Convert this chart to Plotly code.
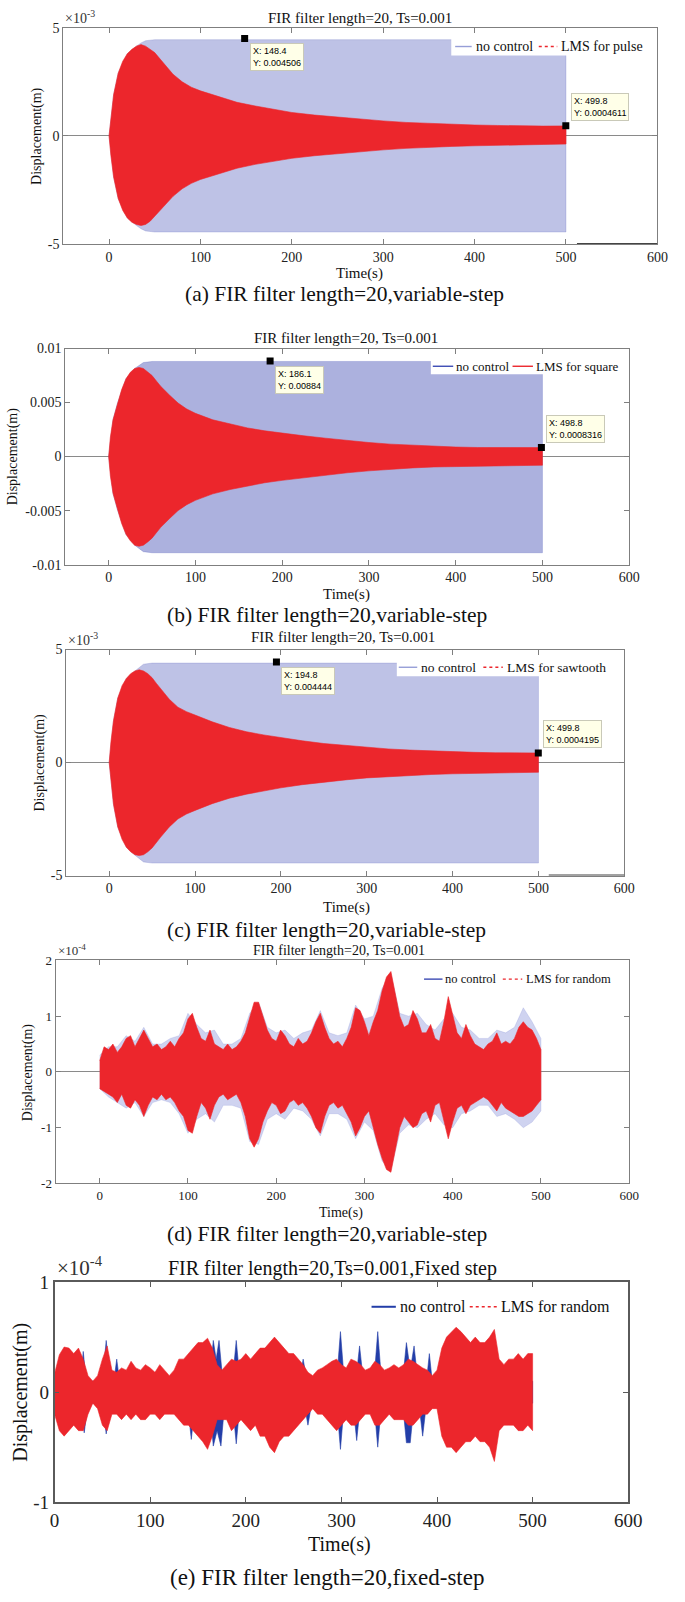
import plotly.graph_objects as go

W, H = 685, 1602
SERIF = "Liberation Serif"
SANS = "Liberation Sans"

# ---------------- data ----------------
# envelope sample times (s) for the sinusoidal-response panels (a)-(c)
t_lms = [0, 2, 5, 10, 15, 20, 25, 30, 35, 40, 45, 50, 55, 60, 70, 80, 90, 100, 120, 140,
         160, 180, 200, 225, 250, 275, 300, 325, 350, 375, 400, 425, 450, 475, 500]
t_nc = [0, 5, 10, 20, 30, 35, 40, 50, 500]

# (a) pulse, values in 1e-3 m
a_lms_up = [0, 0.9, 1.9, 2.9, 3.45, 3.8, 4.0, 4.15, 4.22, 4.15, 4.02, 3.85, 3.6, 3.35, 2.85, 2.5, 2.25,
            2.08, 1.8, 1.55, 1.38, 1.22, 1.08, 0.96, 0.86, 0.77, 0.69, 0.62, 0.57, 0.53, 0.5, 0.48,
            0.46, 0.45, 0.46]
a_lms_lo = [0, -0.9, -1.9, -2.9, -3.45, -3.8, -4.0, -4.1, -4.15, -4.1, -3.95, -3.75, -3.5, -3.25, -2.8,
            -2.45, -2.2, -2.02, -1.75, -1.5, -1.32, -1.17, -1.04, -0.92, -0.82, -0.73, -0.65, -0.58,
            -0.53, -0.49, -0.46, -0.43, -0.41, -0.4, -0.38]
a_nc_up = [0, 1.9, 2.9, 3.8, 4.15, 4.3, 4.4, 4.45, 4.45]
a_nc_lo = [0, -1.9, -2.9, -3.8, -4.15, -4.3, -4.4, -4.45, -4.45]

# (b) square, values in 1e-3 m
b_lms_up = [0, 1.8, 3.4, 4.9, 6.2, 7.2, 7.8, 8.15, 8.25, 8.15, 7.85, 7.5, 7.0, 6.5, 5.7, 4.95, 4.4,
            4.0, 3.4, 3.0, 2.65, 2.38, 2.16, 1.92, 1.7, 1.48, 1.3, 1.15, 1.04, 0.95, 0.88, 0.84,
            0.82, 0.81, 0.83]
b_lms_lo = [0, -1.8, -3.4, -4.9, -6.2, -7.2, -7.8, -8.2, -8.3, -8.2, -7.9, -7.55, -7.05, -6.55, -5.75,
            -5.0, -4.45, -4.05, -3.45, -3.05, -2.7, -2.42, -2.2, -1.95, -1.72, -1.5, -1.32, -1.17,
            -1.05, -0.96, -0.89, -0.85, -0.83, -0.82, -0.8]
b_nc_up = [0, 3.4, 4.9, 7.2, 8.15, 8.4, 8.7, 8.8, 8.8]
b_nc_lo = [0, -3.4, -4.9, -7.2, -8.2, -8.5, -8.8, -8.9, -8.9]

# (c) sawtooth, values in 1e-3 m
c_lms_up = [0, 0.9, 1.85, 2.85, 3.4, 3.72, 3.93, 4.05, 4.1, 4.05, 3.93, 3.75, 3.5, 3.25, 2.8, 2.45,
            2.25, 2.1, 1.8, 1.55, 1.36, 1.22, 1.1, 0.96, 0.84, 0.75, 0.66, 0.6, 0.55, 0.51, 0.48,
            0.45, 0.43, 0.42, 0.42]
c_lms_lo = [0, -0.9, -1.85, -2.85, -3.4, -3.75, -3.95, -4.08, -4.12, -4.08, -3.95, -3.78, -3.55, -3.3,
            -2.85, -2.5, -2.28, -2.12, -1.82, -1.58, -1.4, -1.25, -1.12, -0.98, -0.86, -0.77, -0.68,
            -0.62, -0.57, -0.53, -0.5, -0.47, -0.45, -0.44, -0.43]
c_nc_up = [0, 1.85, 2.85, 3.72, 4.05, 4.2, 4.35, 4.4, 4.4]
c_nc_lo = [0, -1.85, -2.85, -3.75, -4.1, -4.25, -4.4, -4.45, -4.45]

# (d) random, variable step; values in 1e-4 m
t_d = list(range(0, 505, 5))
d_lms_up = [0.2, 0.45, 0.4, 0.5, 0.35, 0.45, 0.6, 0.65, 0.45, 0.6,
            0.75, 0.6, 0.45, 0.5, 0.4, 0.45, 0.55, 0.45, 0.6, 0.7,
            0.95, 1.05, 0.8, 0.6, 0.55, 0.75, 0.5, 0.45, 0.4, 0.5,
            0.4, 0.45, 0.55, 0.7, 1.0, 1.25, 1.25, 1.0, 0.75, 0.6,
            0.55, 0.75, 0.65, 0.5, 0.45, 0.6, 0.5, 0.55, 0.7, 0.9,
            1.05, 0.8, 0.6, 0.5, 0.55, 0.45, 0.6, 0.8, 1.15, 1.1,
            0.9, 0.65, 0.9, 1.1, 1.45, 1.7, 1.8, 1.4, 1.0, 0.8,
            0.85, 1.1, 0.95, 0.7, 0.7, 0.85, 0.6, 0.55, 0.9, 1.35,
            1.0, 0.7, 0.6, 0.85, 0.65, 0.5, 0.45, 0.4, 0.5, 0.55,
            0.7, 0.5, 0.55, 0.5, 0.6, 0.8, 0.9, 0.8, 0.75, 0.6,
            0.4]
d_lms_lo = [-0.3, -0.35, -0.4, -0.45, -0.55, -0.4, -0.6, -0.65, -0.5, -0.6,
            -0.8, -0.6, -0.45, -0.5, -0.4, -0.5, -0.45, -0.55, -0.7, -0.8,
            -1.05, -1.1, -0.8, -0.55, -0.65, -0.85, -0.6, -0.45, -0.4, -0.5,
            -0.45, -0.4, -0.55, -0.8, -1.2, -1.35, -1.2, -0.9, -0.7, -0.55,
            -0.6, -0.75, -0.7, -0.55, -0.5, -0.6, -0.55, -0.65, -0.8, -1.0,
            -1.1, -0.8, -0.6, -0.55, -0.65, -0.6, -0.75, -0.9, -1.15, -1.0,
            -0.8, -0.7, -1.0, -1.3, -1.55, -1.75, -1.8, -1.4, -1.0, -0.8,
            -0.9, -1.0, -0.95, -0.75, -0.7, -0.9, -0.6, -0.55, -0.85, -1.2,
            -0.9, -0.65, -0.6, -0.75, -0.6, -0.55, -0.5, -0.45, -0.5, -0.6,
            -0.7, -0.55, -0.65, -0.7, -0.75, -0.8, -0.8, -0.75, -0.7, -0.6,
            -0.5]
t_d_nc = list(range(0, 510, 10))
d_nc_up = [0.3, 0.45, 0.45, 0.65, 0.55, 0.8, 0.5, 0.5, 0.6, 0.65,
           1.05, 0.85, 0.7, 0.75, 0.5, 0.5, 0.6, 1.05, 1.25, 0.8,
           0.7, 0.75, 0.6, 0.7, 0.75, 1.1, 0.7, 0.65, 0.7, 1.2,
           0.95, 1.0, 1.5, 1.75, 1.05, 1.0, 1.05, 0.85, 0.75, 0.95,
           1.05, 0.8, 0.75, 0.6, 0.6, 0.75, 0.7, 0.8, 1.15, 0.9, 0.6]
d_nc_lo = [-0.3, -0.45, -0.55, -0.65, -0.55, -0.8, -0.55, -0.5, -0.55, -0.75,
           -1.1, -0.85, -0.75, -0.9, -0.6, -0.6, -0.65, -1.25, -1.3, -0.85,
           -0.75, -0.85, -0.65, -0.7, -0.85, -1.15, -0.75, -0.75, -0.85, -1.2,
           -0.9, -1.05, -1.6, -1.75, -1.1, -0.95, -1.0, -0.85, -0.75, -0.95,
           -1.0, -0.75, -0.7, -0.6, -0.6, -0.8, -0.75, -0.85, -1.0, -0.9, -0.7]

# (e) random, fixed step; values in 1e-4 m
t_e = list(range(0, 505, 5))
e_lms_up = [0.17, 0.34, 0.41, 0.4, 0.35, 0.4, 0.3, 0.15, 0.1, 0.15,
            0.3, 0.42, 0.2, 0.18, 0.22, 0.2, 0.28, 0.22, 0.2, 0.25,
            0.22, 0.18, 0.25, 0.2, 0.15, 0.2, 0.3, 0.3, 0.35, 0.4,
            0.45, 0.45, 0.49, 0.4, 0.25, 0.2, 0.25, 0.3, 0.28, 0.3,
            0.35, 0.3, 0.35, 0.4, 0.4, 0.45, 0.5, 0.45, 0.4, 0.35,
            0.35, 0.3, 0.25, 0.18, 0.15, 0.2, 0.22, 0.25, 0.28, 0.3,
            0.25, 0.22, 0.3, 0.28, 0.25, 0.2, 0.22, 0.28, 0.25, 0.2,
            0.22, 0.25, 0.22, 0.25, 0.3, 0.28, 0.25, 0.22, 0.2, 0.15,
            0.2, 0.4, 0.5, 0.55, 0.59, 0.55, 0.5, 0.45, 0.5, 0.45,
            0.45, 0.5, 0.57, 0.3, 0.25, 0.3, 0.3, 0.35, 0.3, 0.35,
            0.35]
e_lms_lo = [-0.2, -0.35, -0.4, -0.35, -0.3, -0.35, -0.35, -0.2, -0.1, -0.15,
            -0.3, -0.35, -0.2, -0.2, -0.25, -0.2, -0.25, -0.2, -0.25, -0.25,
            -0.2, -0.2, -0.25, -0.2, -0.2, -0.2, -0.25, -0.3, -0.3, -0.35,
            -0.4, -0.45, -0.52, -0.4, -0.25, -0.25, -0.25, -0.35, -0.3, -0.25,
            -0.3, -0.35, -0.3, -0.4, -0.4, -0.5, -0.55, -0.45, -0.4, -0.4,
            -0.35, -0.3, -0.25, -0.2, -0.15, -0.2, -0.2, -0.25, -0.3, -0.35,
            -0.3, -0.25, -0.3, -0.3, -0.25, -0.2, -0.2, -0.3, -0.3, -0.25,
            -0.2, -0.25, -0.25, -0.25, -0.3, -0.3, -0.25, -0.2, -0.2, -0.15,
            -0.15, -0.4, -0.5, -0.5, -0.55, -0.5, -0.45, -0.45, -0.4, -0.45,
            -0.45, -0.5, -0.63, -0.35, -0.3, -0.3, -0.3, -0.35, -0.35, -0.3,
            -0.35]
# "no control" in (e): only its excursions beyond the red band are visible
t_e_nc_up = [0, 27, 30, 33, 50, 54, 58, 62, 65, 68, 138, 142, 146, 162, 166, 169, 172, 176, 186, 190,
             194, 256, 260, 264, 295, 299, 303, 315, 319, 323, 334, 338, 342, 364, 368, 372, 376, 380,
             389, 392, 395, 500]
e_nc_up = [0.1, 0.1, 0.37, 0.1, 0.1, 0.47, 0.1, 0.1, 0.3, 0.1, 0.1, 0.33, 0.1, 0.1, 0.47, 0.3, 0.47,
           0.1, 0.1, 0.47, 0.1, 0.1, 0.3, 0.1, 0.1, 0.55, 0.1, 0.1, 0.42, 0.1, 0.1, 0.55, 0.1, 0.1,
           0.45, 0.2, 0.42, 0.1, 0.1, 0.35, 0.1, 0.1]
t_e_nc_lo = [0, 27, 31, 35, 50, 54, 58, 139, 143, 147, 162, 166, 170, 174, 178, 186, 190, 194, 261,
             265, 269, 295, 299, 303, 312, 316, 320, 334, 338, 342, 364, 368, 372, 376, 381, 385, 389,
             500]
e_nc_lo = [-0.1, -0.1, -0.37, -0.1, -0.1, -0.38, -0.1, -0.1, -0.43, -0.1, -0.1, -0.49, -0.35, -0.49,
           -0.1, -0.1, -0.47, -0.1, -0.1, -0.3, -0.1, -0.1, -0.52, -0.1, -0.1, -0.44, -0.1, -0.1,
           -0.5, -0.1, -0.1, -0.46, -0.46, -0.1, -0.1, -0.4, -0.1, -0.1]

# data tips (x, y) shown in panels (a)-(c)
tips_a = [(148.4, 0.004506, "0.004506"), (499.8, 0.0004611, "0.0004611")]
tips_b = [(186.1, 0.00884, "0.00884"), (498.8, 0.0008316, "0.0008316")]
tips_c = [(194.8, 0.004444, "0.004444"), (499.8, 0.0004195, "0.0004195")]

x_ticks = [0, 100, 200, 300, 400, 500, 600]

# ---------------- styling ----------------
RED = "rgb(236,38,44)"
NC_LINE_LIGHT = "rgb(150,158,215)"
NC_LINE = "rgb(60,75,180)"
NC_DARK = "rgb(35,62,168)"
AX = "#7f7f7f"


def P(x):
    return x / W


def Q(y):
    return 1 - y / H


def band(t_up, up, t_lo, lo, scale):
    xs = list(t_up) + list(t_lo)[::-1]
    ys = [v * scale for v in up] + [v * scale for v in lo][::-1]
    return xs, ys


panels = [
    dict(box=(60, 671, 18, 237), xr=[-50, 600], yr=[-0.005, 0.005],
         yt=[-0.005, 0, 0.005], ytt=["-5", "0", "5"], exp="×10<sup>-3</sup>",
         title="FIR filter length=20, Ts=0.001", title_xy=(365, 8), tfs=15,
         time_xy=(365, 267), cap="(a) FIR filter length=20,variable-step", cap_xy=(349, 288),
         cfs=21.5, ylab_x=33, fs=14, tsz=15,
         leg=dict(box=(459, 659, 28, 46), yc=37, lfs=14,
                  items=[(463, 480, 483, "no control", NC_LINE_LIGHT, "solid"),
                         (549, 568, 571, "LMS for pulse", RED, "dot")])),
    dict(box=(62, 642, 343, 562), xr=[-50, 600], yr=[-0.01, 0.01],
         yt=[-0.01, -0.005, 0, 0.005, 0.01], ytt=["-0.01", "-0.005", "0", "0.005", "0.01"], exp=None,
         title="FIR filter length=20, Ts=0.001", title_xy=(351, 332), tfs=15,
         time_xy=(351, 592), cap="(b) FIR filter length=20,variable-step", cap_xy=(331, 613),
         cfs=21.5, ylab_x=8, fs=14, tsz=15,
         leg=dict(box=(438, 636, 354, 369), yc=361, lfs=13,
                  items=[(440, 461, 463, "no control", NC_LINE, "solid"),
                         (522, 543, 545, "LMS for square", RED, "solid")])),
    dict(box=(63, 637, 648, 877), xr=[-50, 600], yr=[-0.005, 0.005],
         yt=[-0.005, 0, 0.005], ytt=["-5", "0", "5"], exp="×10<sup>-3</sup>",
         title="FIR filter length=20, Ts=0.001", title_xy=(348, 635), tfs=15,
         time_xy=(351, 909), cap="(c) FIR filter length=20,variable-step", cap_xy=(331, 932),
         cfs=21.5, ylab_x=36, fs=14, tsz=15,
         leg=dict(box=(403, 626, 659, 675), yc=666, lfs=13.5,
                  items=[(405, 424, 427, "no control", NC_LINE_LIGHT, "solid"),
                         (492, 512, 515, "LMS for sawtooth", RED, "dot")])),
    dict(box=(52, 642, 963, 1189), xr=[-50, 600], yr=[-2e-4, 2e-4],
         yt=[-2e-4, -1e-4, 0, 1e-4, 2e-4], ytt=["-2", "-1", "0", "1", "2"], exp="×10<sup>-4</sup>",
         title="FIR filter length=20, Ts=0.001", title_xy=(344, 953), tfs=14,
         time_xy=(346, 1219), cap="(d) FIR filter length=20,variable-step", cap_xy=(331, 1240),
         cfs=21.5, ylab_x=24, fs=13, tsz=14,
         leg=dict(box=(429, 630, 975, 989), yc=982, lfs=12.5,
                  items=[(431, 450, 452, "no control", NC_LINE, "solid"),
                         (512, 532, 535, "LMS for random", RED, "dot")])),
    dict(box=(51, 641, 1289, 1512), xr=[0, 600], yr=[-1e-4, 1e-4],
         yt=[-1e-4, 0, 1e-4], ytt=["-1", "0", "1"], exp="×10<sup>-4</sup>",
         title="FIR filter length=20,Ts=0.001,Fixed step", title_xy=(337, 1275), tfs=20,
         time_xy=(344, 1555), cap="(e) FIR filter length=20,fixed-step", cap_xy=(331, 1588),
         cfs=23, ylab_x=16, fs=19, tsz=20,
         leg=dict(box=(375, 630, 1305, 1323), yc=1314, lfs=16,
                  items=[(377, 402, 405, "no control", NC_DARK, "solid"),
                         (478, 506, 509, "LMS for random", RED, "dot")])),
]

fig = go.Figure()
annotations = []
shapes = []
layout = dict(width=W, height=H, margin=dict(l=0, r=0, t=0, b=0),
              paper_bgcolor="white", plot_bgcolor="white", showlegend=False)


def ax_names(i):
    s = "" if i == 0 else str(i + 1)
    return "x" + s, "y" + s, "xaxis" + s, "yaxis" + s


def add_fill(i, xs, ys, color, name):
    xa, ya, _, _ = ax_names(i)
    fig.add_trace(go.Scatter(x=xs, y=ys, mode="lines", fill="toself", fillcolor=color, name=name,
                             line=dict(width=0.6, color=color), hoverinfo="skip",
                             showlegend=False, xaxis=xa, yaxis=ya))


# (a)-(c): sinusoidal excitations
sin_sets = [
    (a_nc_up, a_nc_lo, a_lms_up, a_lms_lo, "LMS for pulse", "rgba(100,110,195,0.42)", tips_a),
    (b_nc_up, b_nc_lo, b_lms_up, b_lms_lo, "LMS for square", "rgba(90,100,190,0.5)", tips_b),
    (c_nc_up, c_nc_lo, c_lms_up, c_lms_lo, "LMS for sawtooth", "rgba(100,110,195,0.42)", tips_c),
]
for i, (ncu, ncl, lu, ll, lname, ncfill, tips) in enumerate(sin_sets):
    xs, ys = band(t_nc, ncu, t_nc, ncl, 1e-3)
    add_fill(i, xs, ys, ncfill, "no control")
    xs, ys = band(t_lms, lu, t_lms, ll, 1e-3)
    add_fill(i, xs, ys, RED, lname)
    xa, ya, _, _ = ax_names(i)
    fig.add_trace(go.Scatter(x=[tp[0] for tp in tips], y=[tp[1] for tp in tips], mode="markers",
                             marker=dict(symbol="square", size=7, color="black"),
                             showlegend=False, hoverinfo="skip", xaxis=xa, yaxis=ya))
    for k, (tx, ty, tlab) in enumerate(tips):
        below = (k == 0)
        annotations.append(dict(x=tx, y=ty, xref=xa, yref=ya, showarrow=False,
                                text=f"X: {tx}<br>Y: {tlab}", align="left",
                                xanchor="left", yanchor="top" if below else "bottom",
                                xshift=5, yshift=-5 if below else 5,
                                font=dict(family=SANS, size=9, color="black"),
                                bgcolor="#ffffe8", bordercolor="#c9c9b8", borderwidth=1, borderpad=2))

# (d)
xs, ys = band(t_d_nc, d_nc_up, t_d_nc, d_nc_lo, 1e-4)
add_fill(3, xs, ys, "rgba(130,140,215,0.38)", "no control")
xs, ys = band(t_d, d_lms_up, t_d, d_lms_lo, 1e-4)
add_fill(3, xs, ys, RED, "LMS for random")

# (e)
xs, ys = band(t_e_nc_up, e_nc_up, t_e_nc_lo, e_nc_lo, 1e-4)
add_fill(4, xs, ys, NC_DARK, "no control")
xs, ys = band(t_e, e_lms_up, t_e, e_lms_lo, 1e-4)
add_fill(4, xs, ys, RED, "LMS for random")

for i, p in enumerate(panels):
    xa, ya, xk, yk = ax_names(i)
    x0, x1, y0, y1 = p["box"]
    last = (i == 4)
    lc = "#5a5a5a" if last else AX
    lw = 1.5 if last else 1
    layout[xk] = dict(domain=[P(x0), P(x1)], range=p["xr"], anchor=ya, tickvals=x_ticks,
                      ticks="inside", ticklen=5, tickcolor=lc, showline=True, linecolor=lc,
                      linewidth=lw, mirror="ticks", showgrid=False, zeroline=False,
                      tickfont=dict(family=SERIF, size=p["fs"], color="#222"), fixedrange=True)
    layout[yk] = dict(domain=[Q(y1), Q(y0)], range=p["yr"], anchor=xa, tickvals=p["yt"],
                      ticktext=p["ytt"], ticks="inside", ticklen=5, tickcolor=lc, showline=True,
                      linecolor=lc, linewidth=lw, mirror="ticks", showgrid=False,
                      zeroline=not last, zerolinecolor="#8a8a8a", zerolinewidth=1,
                      tickfont=dict(family=SERIF, size=p["fs"], color="#222"), fixedrange=True)
    # legend drawn as white box + sample lines + texts
    lg = p["leg"]
    bx0, bx1, by0, by1 = lg["box"]
    shapes.append(dict(type="rect", xref="paper", yref="paper", x0=P(bx0), x1=P(bx1),
                       y0=Q(by1), y1=Q(by0), fillcolor="white", line=dict(width=0), layer="above"))
    for (lx0, lx1, tx0, label, col, dash) in lg["items"]:
        shapes.append(dict(type="line", xref="paper", yref="paper", x0=P(lx0), x1=P(lx1),
                           y0=Q(lg["yc"]), y1=Q(lg["yc"]), layer="above",
                           line=dict(color=col, width=(2 if last and dash == "solid" else 1.4),
                                     dash=dash)))
        annotations.append(dict(x=P(tx0), y=Q(lg["yc"]), xref="paper", yref="paper", text=label,
                                showarrow=False, xanchor="left", yanchor="middle", borderpad=0,
                                font=dict(family=SERIF, size=lg["lfs"], color="#111")))
    tx, ty = p["title_xy"]
    annotations.append(dict(x=P(tx), y=Q(ty), xref="paper", yref="paper", text=p["title"],
                            showarrow=False, xanchor="center", yanchor="middle",
                            font=dict(family=SERIF, size=p["tfs"], color="#111")))
    tx, ty = p["time_xy"]
    annotations.append(dict(x=P(tx), y=Q(ty), xref="paper", yref="paper", text="Time(s)",
                            showarrow=False, xanchor="center", yanchor="middle",
                            font=dict(family=SERIF, size=p["tsz"], color="#111")))
    tx, ty = p["cap_xy"]
    annotations.append(dict(x=P(tx), y=Q(ty), xref="paper", yref="paper", text=p["cap"],
                            showarrow=False, xanchor="center", yanchor="middle",
                            font=dict(family=SERIF, size=p["cfs"], color="#111")))
    annotations.append(dict(x=P(p["ylab_x"]), y=Q((y0 + y1) / 2), xref="paper", yref="paper",
                            text="Displacement(m)", textangle=-90, showarrow=False,
                            xanchor="center", yanchor="middle",
                            font=dict(family=SERIF, size=20 if last else 14, color="#111")))
    if p["exp"]:
        annotations.append(dict(x=P(x0), y=Q(y0), xref="paper", yref="paper", text=p["exp"],
                                showarrow=False, xanchor="left", yanchor="bottom",
                                font=dict(family=SERIF, size=p["fs"] + (2 if last else 0), color="#333")))

# darker segment of the lower frame seen at the right of panels (a) and (c)
for i in (0, 2):
    xa, ya, _, _ = ax_names(i)
    shapes.append(dict(type="line", xref=xa, yref=ya, x0=512, x1=600,
                       y0=panels[i]["yr"][0], y1=panels[i]["yr"][0],
                       line=dict(color="#444", width=2)))

layout["annotations"] = annotations
layout["shapes"] = shapes
fig.update_layout(**layout)
fig.write_html("out.html", config={"displayModeBar": False},
               post_script="document.body.style.margin='0';document.body.style.overflow='hidden';")
